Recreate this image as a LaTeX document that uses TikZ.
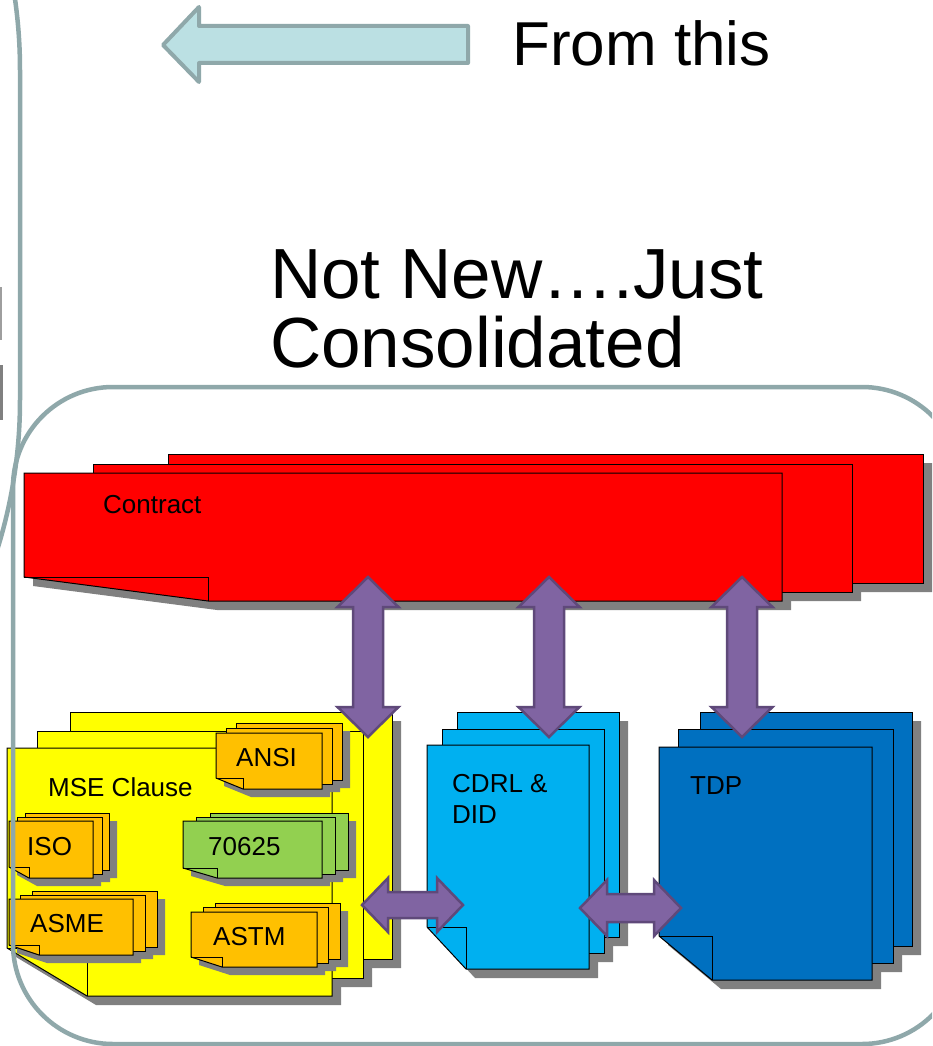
\documentclass[tikz,border=0pt]{standalone}
\usepackage{fontspec}
\setmainfont{Liberation Sans}
\definecolor{frameline}{RGB}{143,168,170}
\definecolor{arrowfill}{RGB}{187,224,227}
\definecolor{purplefill}{RGB}{128,100,162}
\definecolor{purpleline}{RGB}{95,73,122}
\definecolor{shadowgrey}{RGB}{128,128,128}
\definecolor{contractred}{RGB}{255,0,0}
\definecolor{mseyellow}{RGB}{255,255,0}
\definecolor{stdorange}{RGB}{255,192,0}
\definecolor{stdgreen}{RGB}{146,208,80}
\definecolor{cdrlblue}{RGB}{0,176,240}
\definecolor{tdpblue}{RGB}{0,112,192}
\tikzset{
  docline/.style={draw=black,line width=1pt,line join=miter},
  docshade/.style={fill=shadowgrey},
  purplearrow/.style={fill=purplefill,draw=purpleline,line width=2.5pt,line join=miter},
  framebox/.style={draw=frameline,line width=4.5pt},
  bigtext/.style={anchor=base west,inner sep=0pt,font=\fontsize{71}{71}\selectfont},
  lbl/.style={anchor=base west,inner sep=0pt,font=\fontsize{26}{26}\selectfont}
}
% shadow of a back page (L-shaped visible part): x1,y1,x2,y2,next x2,next y1,offset
\newcommand{\docbacksh}[7]{\fill[docshade] ({#1+#7},{#2+#7}) -- ({#3+#7},{#2+#7}) -- ({#3+#7},{#4+#7}) -- ({#5+#7},{#4+#7}) -- ({#5+#7},{#6+#7}) -- ({#1+#7},{#6+#7}) -- cycle;}
% shadow of a folded front page: x1,y1,x2,y2,fx,fy,offset
\newcommand{\docfrsh}[7]{\fill[docshade] ({#1+#7},{#2+#7}) -- ({#3+#7},{#2+#7}) -- ({#3+#7},{#4+#7}) -- ({#5+#7},{#4+#7}) -- ({#1+#7},{#6+#7}) -- cycle;}
% back page (visible L part): colour,x1,y1,x2,y2,next x2,next y1
\newcommand{\docback}[7]{\filldraw[docline,fill=#1] (#2,#7) -- (#2,#3) -- (#4,#3) -- (#4,#5) -- (#6,#5);
  \fill[#1] (#2,#3) -- (#4,#3) -- (#4,#5) -- (#6,#5) -- (#6,#7) -- (#2,#7) -- cycle;
  \draw[docline] (#2,#7) -- (#2,#3) -- (#4,#3) -- (#4,#5) -- (#6,#5);}
% folded front page: colour,x1,y1,x2,y2,fx,fy
\newcommand{\docfr}[7]{\filldraw[docline,fill=#1] (#2,#3) -- (#4,#3) -- (#4,#5) -- (#6,#5) -- (#2,#7) -- cycle;
  \draw[docline] (#2,#7) -- (#6,#7) -- (#6,#5);}
% vertical double block arrow: centre x, top tip, bottom tip
\newcommand{\vdarrow}[3]{\filldraw[purplearrow] (#1,#2) -- ({#1+30.5},{#2+30}) -- ({#1+15},{#2+30}) -- ({#1+15},{#3-30}) -- ({#1+30.5},{#3-30}) -- (#1,#3) -- ({#1-30.5},{#3-30}) -- ({#1-15},{#3-30}) -- ({#1-15},{#2+30}) -- ({#1-30.5},{#2+30}) -- cycle;}
% horizontal double block arrow: left tip, right tip, centre y, head length, head half, shaft half
\newcommand{\hdarrow}[6]{\filldraw[purplearrow] (#1,#3) -- ({#1+#4},{#3-#5}) -- ({#1+#4},{#3-#6}) -- ({#2-#4},{#3-#6}) -- ({#2-#4},{#3-#5}) -- (#2,#3) -- ({#2-#4},{#3+#5}) -- ({#2-#4},{#3+#6}) -- ({#1+#4},{#3+#6}) -- ({#1+#4},{#3+#5}) -- cycle;}
\begin{document}
\begin{tikzpicture}[x=1pt,y=-1pt]
\useasboundingbox (0,0) rectangle (932,1046);
\clip (0,0) rectangle (932,1046);
\fill[white] (0,0) rectangle (932,1046);

% cut-off marks at the left edge
\fill[black!38] (0,287) rectangle (2,340);
\fill[black!50] (0,365) rectangle (3,420);

% top block arrow
\filldraw[fill=arrowfill,draw=frameline,line width=4pt,line join=round]
  (163,45) -- (199,7) -- (199,26) -- (468,26) -- (468,63) -- (199,63) -- (199,82) -- cycle;
\node[anchor=base west,inner sep=0pt,font=\fontsize{62}{62}\selectfont] (fromthis) at (512,66) {From this};

% title
\node[bigtext] (title1) at (270,298) {Not New….Just};
\node[bigtext] (title2) at (270,367) {Consolidated};

% ---- MSE clause stack (yellow)
\docbacksh{70}{712}{392}{959}{363}{731}{9}
\docbacksh{37}{731}{363}{978}{332}{748}{9}
\docfrsh{7}{748}{332}{996}{87}{948}{9}
\docback{mseyellow}{70}{712}{392}{959}{363}{731}
\docback{mseyellow}{37}{731}{363}{978}{332}{748}
\docfr{mseyellow}{7}{748}{332}{996}{87}{948}

% ANSI
\docbacksh{236}{723}{342}{780}{332}{728}{8}
\docbacksh{226}{728}{332}{784}{322}{733}{8}
\docfrsh{216}{733}{322}{789}{243}{778}{8}
\docback{stdorange}{236}{723}{342}{780}{332}{728}
\docback{stdorange}{226}{728}{332}{784}{322}{733}
\docfr{stdorange}{216}{733}{322}{789}{243}{778}
% ISO
\docbacksh{25}{813}{109}{870}{102}{817}{8}
\docbacksh{17}{817}{102}{874}{93}{821}{8}
\docfrsh{9}{821}{93}{878}{29}{867}{8}
\docback{stdorange}{25}{813}{109}{870}{102}{817}
\docback{stdorange}{17}{817}{102}{874}{93}{821}
\docfr{stdorange}{9}{821}{93}{878}{29}{867}
% 70625
\docbacksh{210}{813}{348}{870}{335}{817}{8}
\docbacksh{196}{817}{335}{874}{322}{821}{8}
\docfrsh{183}{821}{322}{878}{217}{868}{8}
\docback{stdgreen}{210}{813}{348}{870}{335}{817}
\docback{stdgreen}{196}{817}{335}{874}{322}{821}
\docfr{stdgreen}{183}{821}{322}{878}{217}{868}
% ASME
\docbacksh{32}{891}{157}{947}{145}{895}{8}
\docbacksh{20}{895}{145}{951}{133}{899}{8}
\docfrsh{9}{899}{133}{955}{39}{945}{8}
\docback{stdorange}{32}{891}{157}{947}{145}{895}
\docback{stdorange}{20}{895}{145}{951}{133}{899}
\docfr{stdorange}{9}{899}{133}{955}{39}{945}
% ASTM
\docbacksh{215}{903}{340}{959}{328}{907}{8}
\docbacksh{203}{907}{328}{963}{317}{912}{8}
\docfrsh{191}{912}{317}{967}{222}{957}{8}
\docback{stdorange}{215}{903}{340}{959}{328}{907}
\docback{stdorange}{203}{907}{328}{963}{317}{912}
\docfr{stdorange}{191}{912}{317}{967}{222}{957}

% ---- CDRL & DID stack
\docbacksh{457}{712}{619}{937}{604}{729}{9}
\docbacksh{442}{729}{604}{953}{589}{745}{9}
\docfrsh{427}{745}{589}{969}{466}{927}{9}
\docback{cdrlblue}{457}{712}{619}{937}{604}{729}
\docback{cdrlblue}{442}{729}{604}{953}{589}{745}
\docfr{cdrlblue}{427}{745}{589}{969}{466}{927}

% ---- TDP stack
\docbacksh{700}{712}{912}{946}{893}{729}{9}
\docbacksh{678}{729}{893}{963}{872}{747}{9}
\docfrsh{659}{747}{872}{980}{712}{936}{9}
\docback{tdpblue}{700}{712}{912}{946}{893}{729}
\docback{tdpblue}{678}{729}{893}{963}{872}{747}
\docfr{tdpblue}{659}{747}{872}{980}{712}{936}

% ---- Contract stack
\docbacksh{168}{454}{923}{583}{852}{464}{9}
\docbacksh{93}{464}{852}{592}{782}{473}{9}
\docfrsh{24}{473}{782}{601}{208}{577}{9}
\docback{contractred}{168}{454}{923}{583}{852}{464}
\docback{contractred}{93}{464}{852}{592}{782}{473}
\docfr{contractred}{24}{473}{782}{601}{208}{577}

% labels
\node[lbl] (contract) at (103,513) {Contract};
\node[lbl] (mse) at (48,796) {MSE Clause};
\node[lbl] (ansi) at (236,766) {ANSI};
\node[lbl] (iso) at (27,855) {ISO};
\node[lbl] (mil) at (208,855) {70625};
\node[lbl] (asme) at (30,932) {ASME};
\node[lbl] (astm) at (213,945) {ASTM};
\node[lbl] (cdrl1) at (452,792) {CDRL \&};
\node[lbl] (cdrl2) at (452,823) {DID};
\node[lbl] (tdp) at (690,794) {TDP};

% ---- purple double arrows
\vdarrow{368}{577}{737}
\vdarrow{549}{577}{737}
\vdarrow{742}{577}{737}
\hdarrow{362}{463}{905}{26}{27}{13}
\hdarrow{580}{681}{908}{27}{28}{14}

% ---- frames
\draw[framebox,rounded corners=500pt] (-1000,-430) rectangle (20,900);
\draw[framebox,rounded corners=100pt] (13,387) rectangle (962,1044);
\end{tikzpicture}
\end{document}
